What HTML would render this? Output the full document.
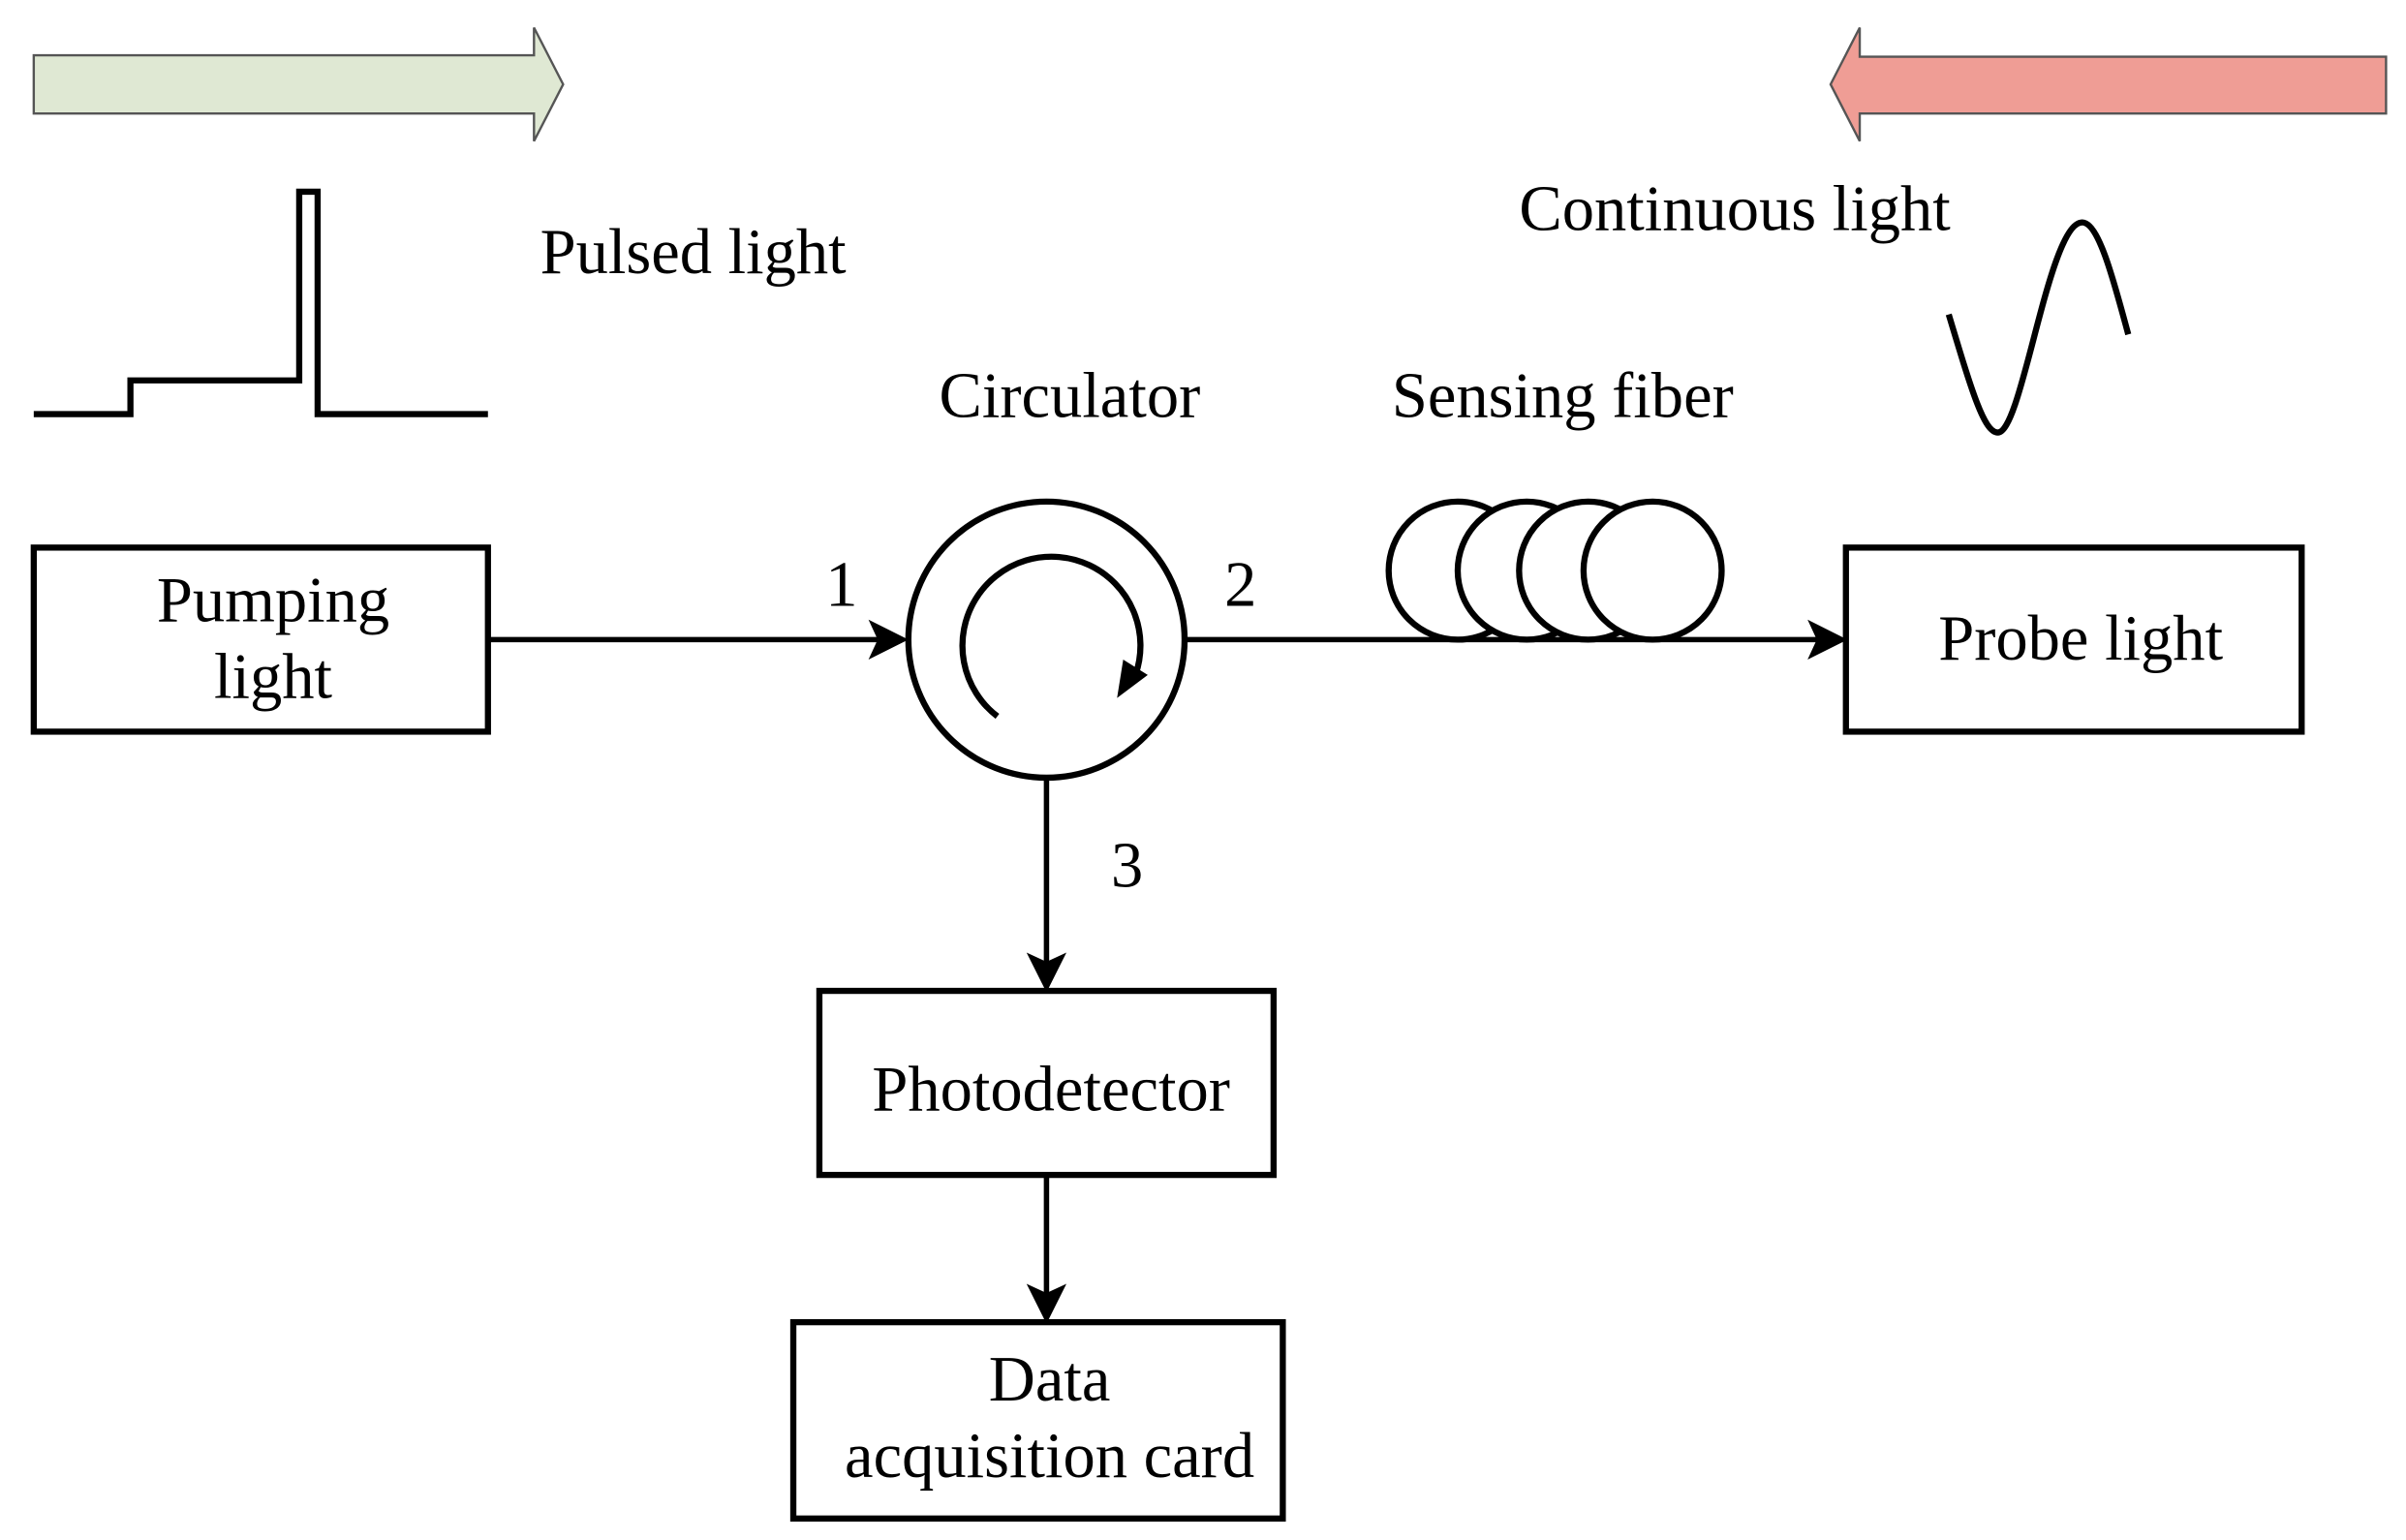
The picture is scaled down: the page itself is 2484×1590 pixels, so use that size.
<!DOCTYPE html>
<html><head><meta charset="utf-8"><style>html,body{margin:0;padding:0;background:#fff}svg{display:block}</style></head>
<body>
<svg width="2484" height="1590" viewBox="0 0 1568 1004" preserveAspectRatio="none" xmlns="http://www.w3.org/2000/svg" font-family="Liberation Serif, serif" font-size="42" fill="#000">
<polygon points="22,36 348,36 348,18 367,55 348,92 348,74 22,74" fill="#dfe8d3" stroke="#555" stroke-width="1.5"/>
<polygon points="1555,37 1212,37 1212,18 1193,55 1212,92 1212,74 1555,74" fill="#ef9d95" stroke="#555" stroke-width="1.5"/>
<polyline points="22,270 85,270 85,248 195,248 195,125 207,125 207,270 318,270" fill="none" stroke="#000" stroke-width="4"/>
<text x="352" y="178">Pulsed light</text>
<text x="990" y="150">Continuous light</text>
<path d="M1270,205 C1285,255 1293,282 1302,282 C1318,282 1335,145 1357,145 C1368,145 1378,185 1387,218" fill="none" stroke="#000" stroke-width="4"/>
<text x="612" y="272">Circulator</text>
<text x="907" y="272">Sensing fiber</text>
<g fill="#fff" stroke="#000" stroke-width="4">
<rect x="22" y="357" width="296" height="120"/>
<rect x="1203" y="357" width="297" height="120"/>
<rect x="534" y="646" width="296" height="120"/>
<rect x="517" y="862" width="319" height="128"/>
</g>
<text x="178" y="405" text-anchor="middle">Pumping</text>
<text x="178" y="455" text-anchor="middle">light</text>
<text x="1356" y="430" text-anchor="middle">Probe light</text>
<text x="685" y="724" text-anchor="middle">Photodetector</text>
<text x="684" y="913" text-anchor="middle">Data</text>
<text x="684" y="963" text-anchor="middle">acquisition card</text>
<g stroke="#000" stroke-width="3.5" fill="none">
<line x1="318" y1="417" x2="572" y2="417"/>
<line x1="772" y1="417" x2="1185" y2="417"/>
<line x1="682" y1="507" x2="682" y2="628"/>
<line x1="682" y1="766" x2="682" y2="845"/>
</g>
<g fill="#000">
<polygon points="592,417 566,404 572,417 566,430"/>
<polygon points="1204,417 1178,404 1184,417 1178,430"/>
<polygon points="682,647 669,621 682,627 695,621"/>
<polygon points="682,863 669,837 682,843 695,837"/>
</g>
<g fill="#fff" stroke="#000" stroke-width="4">
<circle cx="950" cy="372" r="45"/>
<circle cx="995" cy="372" r="45"/>
<circle cx="1035" cy="372" r="45"/>
<circle cx="1077" cy="372" r="45"/>
</g>
<circle cx="682" cy="417" r="90" fill="#fff" stroke="#000" stroke-width="4"/>
<path d="M650,467 A58,58 0 1 1 740,440" fill="none" stroke="#000" stroke-width="4"/>
<polygon points="728,455 732,430 748,440" fill="#000"/>
<text x="538" y="395">1</text>
<text x="798" y="395">2</text>
<text x="724" y="578">3</text>
</svg>
</body></html>
